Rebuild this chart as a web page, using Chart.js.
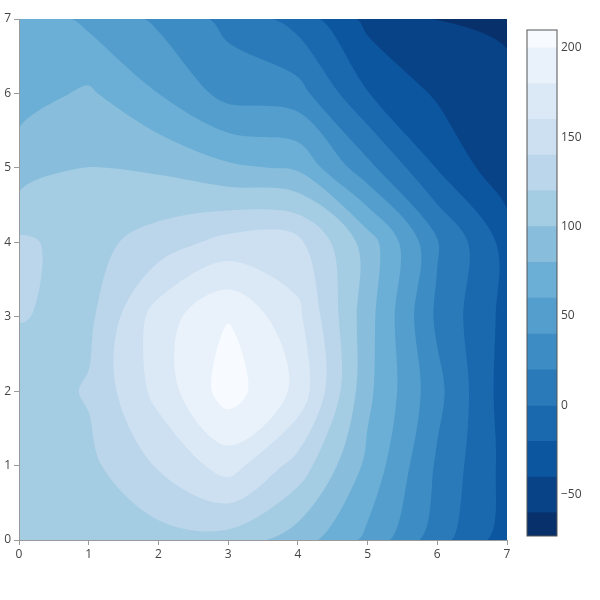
<!DOCTYPE html>
<html><head><meta charset="utf-8">
<script src="https://cdn.jsdelivr.net/npm/chart.js@4/dist/chart.umd.min.js"></script>
<style>
html,body{margin:0;padding:0;background:#fff;}
#wrap{position:relative;width:600px;height:600px;}
#main{position:absolute;left:0;top:0;}
#cbar{position:absolute;left:520px;top:0;}
</style></head><body>
<div id="wrap"><canvas id="main" width="600" height="600"></canvas><canvas id="cbar" width="80" height="600"></canvas></div>
<script>
// ---- data ----
const xValues = [0, 1, 2, 3, 4, 5, 6, 7];
const yValues = [0, 1, 2, 3, 4, 5, 6, 7];
const zRow0 = [108, 110, 112, 112, 90, 55, 8, -31];
const zRow1 = [108, 115, 142, 169, 132, 75, 17, -27];
const zRow2 = [108, 122, 167, 210, 175, 85, 26, -31];
const zRow3 = [121, 115, 170, 199, 165, 88, 16, -27];
const zRow4 = [123, 113, 129, 147, 146, 91, 22, -28];
const zRow5 = [89, 101, 97, 84, 77, 26, -21, -55];
const zRow6 = [72, 83, 60, 33, 28, -19, -43, -41];
const zRow7 = [75, 55, 36, 14, -8, -46, -61, -73];
const zRows = [zRow0, zRow1, zRow2, zRow3, zRow4, zRow5, zRow6, zRow7];
const contourStart = -60, contourEnd = 200, contourSize = 20;
const axisTicks = [0, 1, 2, 3, 4, 5, 6, 7];
const colorbarTicks = [-50, 0, 50, 100, 150, 200];

// ---- style ----
const BLUES = [[0,[8,48,107]],[0.125,[8,81,156]],[0.25,[33,113,181]],[0.375,[66,146,198]],
  [0.5,[107,174,214]],[0.625,[158,202,225]],[0.75,[198,219,239]],[0.875,[222,235,247]],[1,[247,251,255]]];
const AXIS = '#9a9a9a';
const TXT = '#444';
const FONT = {family: '"Open Sans", sans-serif', size: 12};

function colorAt(t) {
  for (let i = 1; i < BLUES.length; i++) {
    if (t <= BLUES[i][0] + 1e-9) {
      const a = BLUES[i-1], b = BLUES[i];
      const f = (t - a[0]) / (b[0] - a[0]);
      return a[1].map((c, j) => Math.round(c + f * (b[1][j] - c)));
    }
  }
  return BLUES[BLUES.length-1][1];
}
const levels = [];
for (let v = contourStart; v <= contourEnd + 1e-9; v += contourSize) levels.push(v);
const nBands = levels.length + 1;
const bandRGB = [];
for (let k = 0; k < nBands; k++) bandRGB.push(colorAt(k / (nBands - 1)));
const rgbStr = c => `rgb(${c[0]},${c[1]},${c[2]})`;

const allZ = zRows.flat();
const zMin = Math.min(...allZ), zMax = Math.max(...allZ);

// ---- marching squares with padding (closed loops) ----
function contourLoops(level, PX, PY, Z) {
  const W = PX.length, H = PY.length;
  const hi = (i, j) => Z[j][i] >= level;
  const keyH = (i, j) => (j * W + i) * 2;
  const keyV = (i, j) => (j * W + i) * 2 + 1;
  const pts = new Map();
  function pointFor(key) {
    if (pts.has(key)) return pts.get(key);
    const isV = key % 2, n = (key - isV) / 2, i = n % W, j = (n - i) / W;
    const i2 = isV ? i : i + 1, j2 = isV ? j + 1 : j;
    const za = Z[j][i], zb = Z[j2][i2];
    const t = (level - za) / (zb - za);
    const p = [PX[i] + t * (PX[i2] - PX[i]), PY[j] + t * (PY[j2] - PY[j])];
    pts.set(key, p);
    return p;
  }
  const adj = new Map();
  function link(a, b) {
    if (!adj.has(a)) adj.set(a, []);
    if (!adj.has(b)) adj.set(b, []);
    adj.get(a).push(b); adj.get(b).push(a);
  }
  for (let j = 0; j < H - 1; j++) {
    for (let i = 0; i < W - 1; i++) {
      const a = hi(i, j), b = hi(i+1, j), c = hi(i+1, j+1), d = hi(i, j+1);
      const eB = keyH(i, j), eR = keyV(i+1, j), eT = keyH(i, j+1), eL = keyV(i, j);
      const cr = [];
      if (a !== b) cr.push(eB);
      if (b !== c) cr.push(eR);
      if (c !== d) cr.push(eT);
      if (d !== a) cr.push(eL);
      if (cr.length === 2) link(cr[0], cr[1]);
      else if (cr.length === 4) {
        const center = (Z[j][i] + Z[j][i+1] + Z[j+1][i+1] + Z[j+1][i]) / 4 >= level;
        const cutBD = (a && c) ? center : !center;
        if (cutBD) { link(eB, eR); link(eT, eL); }
        else { link(eL, eB); link(eR, eT); }
      }
    }
  }
  const loops = [];
  const seen = new Set();
  for (const start of adj.keys()) {
    if (seen.has(start)) continue;
    const loop = [];
    let prev = null, cur = start, guard = 0;
    while (guard++ < 100000) {
      seen.add(cur);
      loop.push(pointFor(cur));
      const nb = adj.get(cur);
      let next = nb[0] !== prev ? nb[0] : nb[1];
      if (next === undefined) break;
      prev = cur; cur = next;
      if (cur === start) break;
    }
    loops.push(loop);
  }
  return loops;
}

function thinPoints(p) {
  if (p.length < 4) return p;
  let total = 0;
  for (let i = 0; i < p.length; i++) {
    const q = p[(i + 1) % p.length];
    total += Math.hypot(q[0] - p[i][0], q[1] - p[i][1]);
  }
  const thr = Math.max(0.5, 0.2 * total / p.length);
  const out = [p[0]];
  for (let i = 1; i < p.length; i++) {
    const l = out[out.length - 1];
    if (Math.hypot(p[i][0] - l[0], p[i][1] - l[1]) >= thr) out.push(p[i]);
  }
  if (out.length > 3) {
    const f = out[0], l = out[out.length - 1];
    if (Math.hypot(f[0] - l[0], f[1] - l[1]) < thr) out.pop();
  }
  return out.length >= 3 ? out : p;
}

function makeTangent(prevpt, thispt, nextpt, s) {
  const d1x = prevpt[0] - thispt[0], d1y = prevpt[1] - thispt[1];
  const d2x = nextpt[0] - thispt[0], d2y = nextpt[1] - thispt[1];
  const d1a = Math.pow(d1x * d1x + d1y * d1y, 0.25);
  const d2a = Math.pow(d2x * d2x + d2y * d2y, 0.25);
  const numx = (d2a * d2a * d1x - d1a * d1a * d2x) * s;
  const numy = (d2a * d2a * d1y - d1a * d1a * d2y) * s;
  const den1 = 3 * d2a * (d1a + d2a), den2 = 3 * d1a * (d1a + d2a);
  return [
    [thispt[0] + (den1 && numx / den1), thispt[1] + (den1 && numy / den1)],
    [thispt[0] - (den2 && numx / den2), thispt[1] - (den2 && numy / den2)]
  ];
}

function traceSmoothClosed(ctx, p) {
  const n = p.length;
  const tg = [];
  for (let i = 0; i < n; i++) tg.push(makeTangent(p[(i + n - 1) % n], p[i], p[(i + 1) % n], 1));
  ctx.moveTo(p[0][0], p[0][1]);
  for (let i = 1; i < n; i++) {
    ctx.bezierCurveTo(tg[i-1][1][0], tg[i-1][1][1], tg[i][0][0], tg[i][0][1], p[i][0], p[i][1]);
  }
  ctx.bezierCurveTo(tg[n-1][1][0], tg[n-1][1][1], tg[0][0][0], tg[0][0][1], p[0][0], p[0][1]);
  ctx.closePath();
}

const contourPlugin = {
  id: 'contourFill',
  beforeDraw(chart) {
    const {ctx, chartArea: a, scales: {x: xs, y: ys}} = chart;
    const nx = xValues.length, ny = yValues.length;
    const PX = [xs.getPixelForValue(2 * xValues[0] - xValues[1])]
      .concat(xValues.map(v => xs.getPixelForValue(v)))
      .concat([xs.getPixelForValue(2 * xValues[nx-1] - xValues[nx-2])]);
    const PY = [ys.getPixelForValue(2 * yValues[0] - yValues[1])]
      .concat(yValues.map(v => ys.getPixelForValue(v)))
      .concat([ys.getPixelForValue(2 * yValues[ny-1] - yValues[ny-2])]);
    const PAD = -1e6;
    const Z = [];
    for (let j = 0; j < ny + 2; j++) {
      const row = [];
      for (let i = 0; i < nx + 2; i++) {
        row.push((i === 0 || j === 0 || i === nx + 1 || j === ny + 1) ? PAD : zRows[j-1][i-1]);
      }
      Z.push(row);
    }
    ctx.save();
    ctx.beginPath();
    ctx.rect(a.left, a.top, a.right - a.left, a.bottom - a.top);
    ctx.clip();
    ctx.fillStyle = rgbStr(bandRGB[0]);
    ctx.fillRect(a.left, a.top, a.right - a.left, a.bottom - a.top);
    levels.forEach((lv, k) => {
      const loops = contourLoops(lv, PX, PY, Z);
      if (!loops.length) return;
      ctx.beginPath();
      loops.forEach(lp => traceSmoothClosed(ctx, thinPoints(lp)));
      ctx.fillStyle = rgbStr(bandRGB[k + 1]);
      ctx.fill('evenodd');
    });
    ctx.restore();
  }
};

const gridPoints = [];
yValues.forEach((y, j) => xValues.forEach((x, i) => gridPoints.push({x, y, z: zRows[j][i]})));

const axisCommon = {
  type: 'linear', min: 0, max: 7,
  afterBuildTicks: s => { s.ticks = axisTicks.map(v => ({value: v})); },
  grid: {drawOnChartArea: false, tickLength: 5, color: AXIS, lineWidth: 1},
  border: {color: AXIS, width: 1},
};

new Chart(document.getElementById('main'), {
  type: 'scatter',
  data: {datasets: [{data: gridPoints, pointRadius: 0, pointHoverRadius: 0}]},
  options: {
    responsive: false, animation: false, events: [],
    layout: {padding: {left: 0, top: 19, right: 93, bottom: 0}},
    plugins: {legend: {display: false}, tooltip: {enabled: false}},
    scales: {
      x: Object.assign({}, axisCommon, {
        afterFit: s => { s.height = 60; },
        ticks: {padding: 2, color: TXT, font: FONT, maxRotation: 0, autoSkip: false}
      }),
      y: Object.assign({}, axisCommon, {
        afterFit: s => { s.width = 19; },
        ticks: {padding: 3, color: TXT, font: FONT, autoSkip: false}
      })
    }
  },
  plugins: [contourPlugin]
});

// ---- colorbar ----
const cbBands = [];
for (let k = 0; k < nBands; k++) {
  const lo = k === 0 ? zMin : levels[k-1];
  const hi = k === nBands - 1 ? zMax : levels[k];
  cbBands.push({lo, hi, color: rgbStr(bandRGB[k])});
}
const outlinePlugin = {
  id: 'cbOutline',
  afterDraw(chart) {
    const {ctx, chartArea: a} = chart;
    ctx.save();
    ctx.strokeStyle = '#555';
    ctx.lineWidth = 1;
    ctx.strokeRect(Math.round(a.left), Math.round(a.top), Math.round(a.right - a.left), Math.round(a.bottom - a.top));
    ctx.restore();
  }
};
new Chart(document.getElementById('cbar'), {
  type: 'bar',
  data: {
    labels: [''],
    datasets: cbBands.map(b => ({data: [[b.lo, b.hi]], backgroundColor: b.color, borderWidth: 0,
      barPercentage: 1, categoryPercentage: 1}))
  },
  options: {
    responsive: false, animation: false, events: [],
    layout: {padding: {left: 7, top: 30, bottom: 64, right: 0}},
    plugins: {legend: {display: false}, tooltip: {enabled: false}},
    scales: {
      x: {display: false, stacked: true},
      y: {
        position: 'right', min: zMin, max: zMax,
        afterBuildTicks: s => { s.ticks = colorbarTicks.map(v => ({value: v})); },
        afterFit: s => { s.width = 43; },
        grid: {display: false, drawTicks: false},
        border: {display: false},
        ticks: {padding: 4, color: TXT, font: FONT, callback: v => String(v).replace('-', '\u2212')}
      }
    }
  },
  plugins: [outlinePlugin]
});
</script>
</body></html>
